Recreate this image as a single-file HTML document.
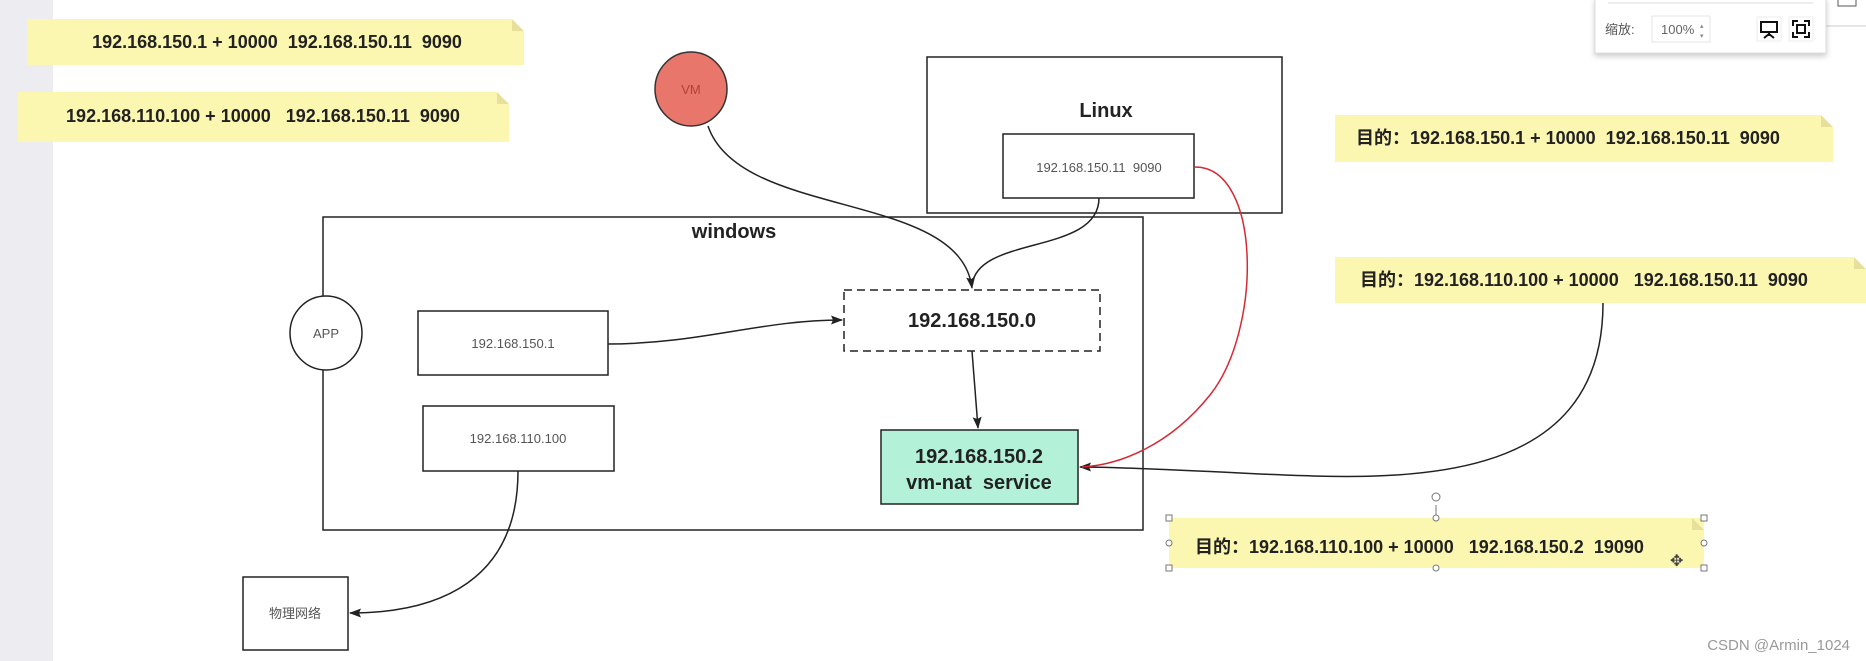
<!DOCTYPE html>
<html><head><meta charset="utf-8"><style>
html,body{margin:0;padding:0;background:#fff;}
body{width:1866px;height:661px;position:relative;overflow:hidden;font-family:"Liberation Sans","Noto Sans CJK SC",sans-serif;}
svg{position:absolute;left:0;top:0;}
</style></head><body>
<svg width="1866" height="661" viewBox="0 0 1866 661" xmlns="http://www.w3.org/2000/svg" font-family="Liberation Sans, Noto Sans CJK SC, sans-serif">
<defs>
<marker id="ah" markerWidth="12" markerHeight="12" refX="11" refY="6" orient="auto" markerUnits="userSpaceOnUse"><path d="M0,1.5 L12,6 L0,10.5 L2,6 Z" fill="#222"/></marker>
</defs>
<rect x="0" y="0" width="53" height="661" fill="#ededf1"/>

<g>
<rect x="27" y="19" width="497" height="46" fill="#fbf6b0"/><path d="M512,19 L524,31 L512,31 Z" fill="#e6e09a"/><path d="M512,19 L524,19 L524,31 Z" fill="#fff"/>
<text x="277" y="48" font-size="18" font-weight="bold" text-anchor="middle" fill="#222" xml:space="preserve">192.168.150.1 + 10000  192.168.150.11  9090</text>
<rect x="18" y="92" width="491" height="50" fill="#fbf6b0"/><path d="M497,92 L509,104 L497,104 Z" fill="#e6e09a"/><path d="M497,92 L509,92 L509,104 Z" fill="#fff"/>
<text x="263" y="122" font-size="18" font-weight="bold" text-anchor="middle" fill="#222" xml:space="preserve">192.168.110.100 + 10000   192.168.150.11  9090</text>
<rect x="1335" y="115" width="498" height="47" fill="#fbf6b0"/><path d="M1821,115 L1833,127 L1821,127 Z" fill="#e6e09a"/><path d="M1821,115 L1833,115 L1833,127 Z" fill="#fff"/>
<text x="1356" y="144" font-size="18" font-weight="bold" fill="#222" xml:space="preserve">目的：192.168.150.1 + 10000  192.168.150.11  9090</text>
<rect x="1335" y="257" width="531" height="46" fill="#fbf6b0"/><path d="M1854,257 L1866,269 L1854,269 Z" fill="#e6e09a"/><path d="M1854,257 L1866,257 L1866,269 Z" fill="#fff"/>
<text x="1360" y="286" font-size="18" font-weight="bold" fill="#222" xml:space="preserve">目的：192.168.110.100 + 10000   192.168.150.11  9090</text>
<rect x="1169" y="518" width="535" height="50" fill="#fbf6b0"/><path d="M1692,518 L1704,530 L1692,530 Z" fill="#e6e09a"/>
<text x="1195" y="553" font-size="18" font-weight="bold" fill="#222" xml:space="preserve">目的：192.168.110.100 + 10000   192.168.150.2  19090</text>
<g fill="#fff" stroke="#777" stroke-width="1">
<rect x="1166" y="515" width="6" height="6"/><rect x="1701" y="515" width="6" height="6"/><rect x="1166" y="565" width="6" height="6"/><rect x="1701" y="565" width="6" height="6"/>
<line x1="1436" y1="505" x2="1436" y2="518"/>
<circle cx="1436" cy="497" r="4"/><circle cx="1436" cy="518" r="3"/><circle cx="1436" cy="568" r="3"/><circle cx="1169" cy="543" r="3"/><circle cx="1704" cy="543" r="3"/>
</g>
<text x="1670" y="566" font-size="16" fill="#444">✥</text>
</g>

<rect x="927" y="57" width="355" height="156" fill="#fff" stroke="#222" stroke-width="1.5"/>
<text x="1106" y="117" font-size="20" font-weight="bold" text-anchor="middle" fill="#222">Linux</text>
<rect x="1003" y="134" width="191" height="64" fill="#fff" stroke="#222" stroke-width="1.5"/>
<text x="1099" y="172" font-size="13" text-anchor="middle" fill="#555" xml:space="preserve">192.168.150.11  9090</text>

<rect x="323" y="217" width="820" height="313" fill="none" stroke="#222" stroke-width="1.5"/>
<text x="734" y="238" font-size="20" font-weight="bold" text-anchor="middle" fill="#222">windows</text>

<ellipse cx="326" cy="333" rx="36" ry="37" fill="#fff" stroke="#222" stroke-width="1.5"/>
<text x="326" y="338" font-size="13" text-anchor="middle" fill="#555">APP</text>

<ellipse cx="691" cy="89" rx="36" ry="37" fill="#e8766b" stroke="#333" stroke-width="1.5"/>
<text x="691" y="94" font-size="13" text-anchor="middle" fill="#b04438">VM</text>

<rect x="418" y="311" width="190" height="64" fill="#fff" stroke="#222" stroke-width="1.5"/>
<text x="513" y="348" font-size="13" text-anchor="middle" fill="#555">192.168.150.1</text>
<rect x="423" y="406" width="191" height="65" fill="#fff" stroke="#222" stroke-width="1.5"/>
<text x="518" y="443" font-size="13" text-anchor="middle" fill="#555">192.168.110.100</text>
<rect x="243" y="577" width="105" height="73" fill="#fff" stroke="#222" stroke-width="1.5"/>
<text x="295" y="618" font-size="13" text-anchor="middle" fill="#555">物理网络</text>

<rect x="844" y="290" width="256" height="61" fill="#fff" stroke="#222" stroke-width="1.5" stroke-dasharray="8,5"/>
<text x="972" y="327" font-size="20" font-weight="bold" text-anchor="middle" fill="#222">192.168.150.0</text>

<rect x="881" y="430" width="197" height="74" fill="#b3f2d9" stroke="#222" stroke-width="1.5"/>
<text x="979" y="463" font-size="20" font-weight="bold" text-anchor="middle" fill="#222">192.168.150.2</text>
<text x="979" y="489" font-size="20" font-weight="bold" text-anchor="middle" fill="#222" xml:space="preserve">vm-nat  service</text>

<g fill="none" stroke="#222" stroke-width="1.5">
<path d="M708,126 C740,220 960,190 972,288" marker-end="url(#ah)"/>
<path d="M1099,198 C1099,255 978,235 972,285"/>
<path d="M608,344 C700,344 760,320 842,320" marker-end="url(#ah)"/>
<path d="M972,351 L978,428" marker-end="url(#ah)"/>
<path d="M1603,303 C1603,490 1400,480 1260,474 C1180,470 1110,467 1080,467" marker-end="url(#ah)"/>
<path d="M518,471 C518,580 440,613 350,613" marker-end="url(#ah)"/>
</g>
<path d="M1195,167 C1262,167 1262,330 1210,395 C1170,445 1120,465 1082,467" fill="none" stroke="#d42a35" stroke-width="1.5"/>

<line x1="1826" y1="26" x2="1866" y2="26" stroke="#ccc"/>
<path d="M1838,0 L1838,6 L1856,6 L1856,0" fill="none" stroke="#555"/>
<rect x="1595" y="-2" width="231" height="55" fill="#fff" stroke="#ddd" style="filter:drop-shadow(0 3px 3px rgba(0,0,0,0.2))"/>
<line x1="1608" y1="3" x2="1813" y2="3" stroke="#ddd"/>
<text x="1605" y="34" font-size="13" fill="#555">缩放:</text>
<rect x="1652" y="16" width="58" height="26" fill="#fff" stroke="#e4e4e4"/>
<text x="1661" y="34" font-size="13" fill="#666">100%</text>
<text x="1700" y="28" font-size="7" fill="#888">▴</text><text x="1700" y="38" font-size="7" fill="#888">▾</text>
<rect x="1757" y="17" width="24" height="24" fill="#fff" stroke="#eee"/>
<path d="M1761,22 H1777 V32 H1761 Z M1769,32 V36 M1764,38 L1769,34 L1774,38" fill="none" stroke="#111" stroke-width="2"/>
<rect x="1789" y="17" width="24" height="24" fill="#fff" stroke="#eee"/>
<path d="M1793,26 V21 H1798 M1804,21 H1809 V26 M1809,32 V37 H1804 M1798,37 H1793 V32 M1797,25 H1805 V33 H1797 Z" fill="none" stroke="#111" stroke-width="2"/>

<text x="1850" y="650" font-size="15" text-anchor="end" fill="#999">CSDN @Armin_1024</text>
</svg>
</body></html>
